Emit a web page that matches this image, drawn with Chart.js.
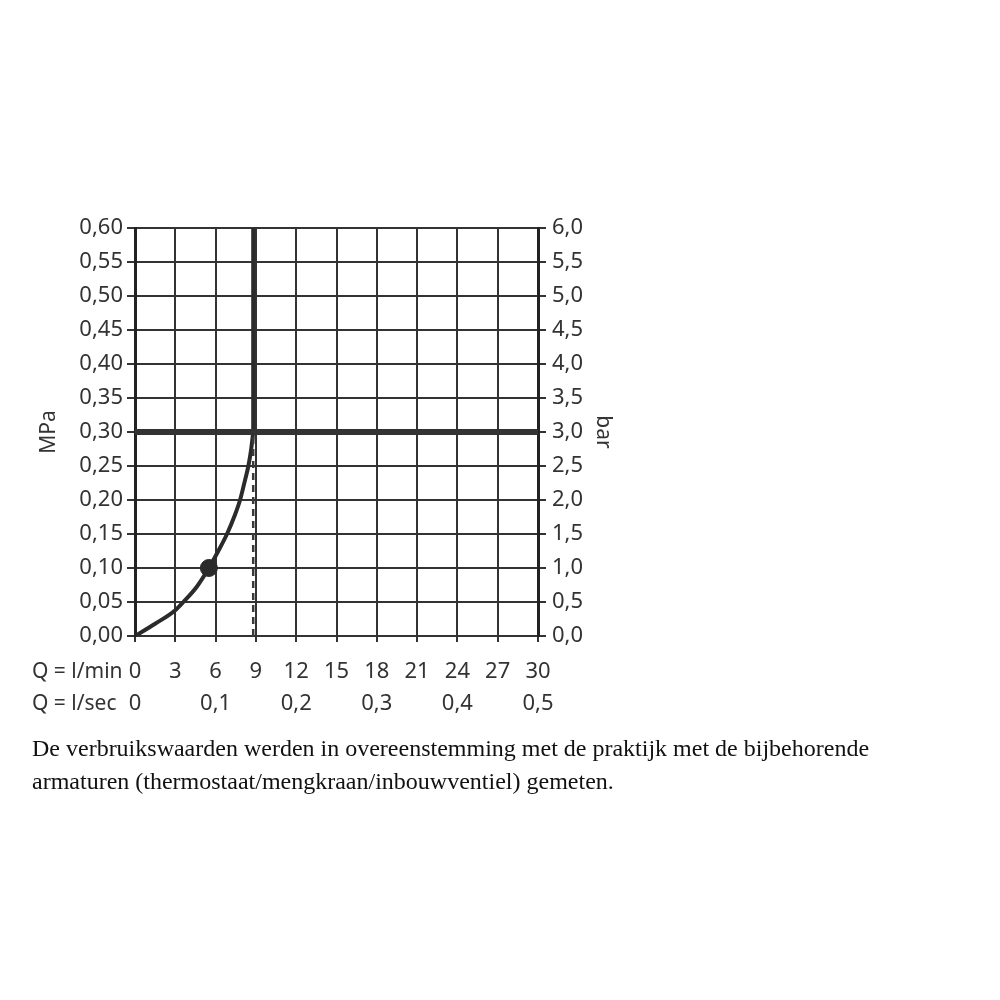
<!DOCTYPE html>
<html>
<head>
<meta charset="utf-8">
<script src="https://cdn.jsdelivr.net/npm/chart.js@4"></script>
<style>
  body { margin: 0; background: #fff; }
  #wrap { position: relative; width: 1000px; height: 1000px; }
  #caption {
    position: absolute; left: 32px; top: 732px;
    font-family: "Liberation Serif", "DejaVu Serif", serif;
    font-size: 24px; line-height: 33px; color: #111; white-space: nowrap;
  }
</style>
</head>
<body>
<div id="wrap">
  <canvas id="myChart" width="1000" height="1000"></canvas>
  <div id="caption">De verbruikswaarden werden in overeenstemming met de praktijk met de bijbehorende<br>armaturen (thermostaat/mengkraan/inbouwventiel) gemeten.</div>
</div>
<script>
// flow (l/min) vs pressure (MPa)
var curveFlow = [0, 1.5, 3, 3.6, 4.6, 5.5, 6.2, 6.85, 7.4, 7.82, 8.2, 8.44, 8.65, 8.8];
var curvePressure = [0, 0.018, 0.038, 0.05, 0.0725, 0.10, 0.125, 0.15, 0.176, 0.20, 0.23, 0.25, 0.275, 0.30];
var maxFlow = [8.8, 8.8];            // vertical limit line
var maxFlowPressure = [0.30, 0.60];
var dashPressure = [0, 0.30];
var refPressure = 0.30;              // thick horizontal line
var markFlow = 5.5, markPressure = 0.10;

var lpmTicks = ['0', '3', '6', '9', '12', '15', '18', '21', '24', '27', '30'];
var lsecTicks = ['0', '', '0,1', '', '0,2', '', '0,3', '', '0,4', '', '0,5'];
var mpaTicks = ['0,00', '0,05', '0,10', '0,15', '0,20', '0,25', '0,30', '0,35', '0,40', '0,45', '0,50', '0,55', '0,60'];
var barTicks = ['0,0', '0,5', '1,0', '1,5', '2,0', '2,5', '3,0', '3,5', '4,0', '4,5', '5,0', '5,5', '6,0'];

var ink = '#2b2b2b';
var tickFont = { family: 'Noto Sans', size: 22, lineHeight: 1.45 };

function pts(xs, ys) {
    return xs.map(function(x, i) { return { x: x, y: ys[i] }; });
}

var qLabels = {
    id: 'qLabels',
    afterDraw: function(chart) {
        var c = chart.ctx, a = chart.chartArea;
        c.save();
        c.font = '21px "Noto Sans"';
        c.fillStyle = '#333';
        c.textAlign = 'left';
        c.textBaseline = 'middle';
        c.fillText('Q = l/min', a.left - 103, a.bottom + 36);
        c.fillText('Q = l/sec', a.left - 103, a.bottom + 68);
        c.restore();
    }
};

var ctx = document.getElementById('myChart').getContext('2d');
var myChart = new Chart(ctx, {
    type: 'scatter',
    data: {
        datasets: [
            {
                data: [{ x: 0, y: refPressure }, { x: 30, y: refPressure }],
                showLine: true, borderColor: '#333', borderWidth: 6, pointRadius: 0, tension: 0
            },
            {
                data: pts(maxFlow, dashPressure),
                showLine: true, borderColor: '#3a3a3a', borderWidth: 2.5, borderDash: [7, 5], pointRadius: 0
            },
            {
                data: pts(curveFlow, curvePressure),
                showLine: true, borderColor: ink, borderWidth: 4, pointRadius: 0,
                cubicInterpolationMode: 'monotone'
            },
            {
                data: pts(maxFlow, maxFlowPressure),
                showLine: true, borderColor: ink, borderWidth: 4, pointRadius: 0, tension: 0
            },
            {
                data: [{ x: markFlow, y: markPressure }],
                pointRadius: 8.5, backgroundColor: ink, borderColor: ink
            }
        ]
    },
    options: {
        responsive: false,
        animation: false,
        layout: { padding: { left: 32, right: 380, top: 228, bottom: 0 } },
        plugins: { legend: { display: false }, tooltip: { enabled: false } },
        scales: {
            x: {
                type: 'linear', min: 0, max: 30,
                afterFit: function(s) { s.height = 364; },
                ticks: {
                    stepSize: 3, autoSkip: false, maxRotation: 0, padding: 14,
                    color: '#333', font: tickFont,
                    callback: function(v, i) { return [lpmTicks[i], lsecTicks[i]]; }
                },
                grid: { color: '#333', lineWidth: 2, tickLength: 6 },
                border: { color: '#333', width: 2 }
            },
            y: {
                position: 'left', min: 0, max: 0.6,
                afterFit: function(s) { s.width = 103; },
                ticks: {
                    stepSize: 0.05, autoSkip: false, padding: 4, color: '#333', font: tickFont,
                    callback: function(v, i) { return mpaTicks[i]; }
                },
                grid: { color: '#333', lineWidth: 2, tickLength: 8 },
                border: { color: '#222', width: 3 },
                title: { display: true, text: 'MPa', color: '#333', font: { family: 'Noto Sans', size: 21 }, padding: 4 }
            },
            y2: {
                position: 'right', min: 0, max: 6,
                afterFit: function(s) { s.width = 82; },
                ticks: {
                    stepSize: 0.5, autoSkip: false, padding: 6, color: '#333', font: tickFont,
                    callback: function(v, i) { return barTicks[i]; }
                },
                grid: { drawOnChartArea: false, color: '#333', lineWidth: 2, tickLength: 8 },
                border: { color: '#222', width: 3 },
                title: { display: true, text: 'bar', color: '#333', font: { family: 'Noto Sans', size: 21 }, padding: 4 }
            }
        }
    },
    plugins: [qLabels]
});
</script>
</body>
</html>
